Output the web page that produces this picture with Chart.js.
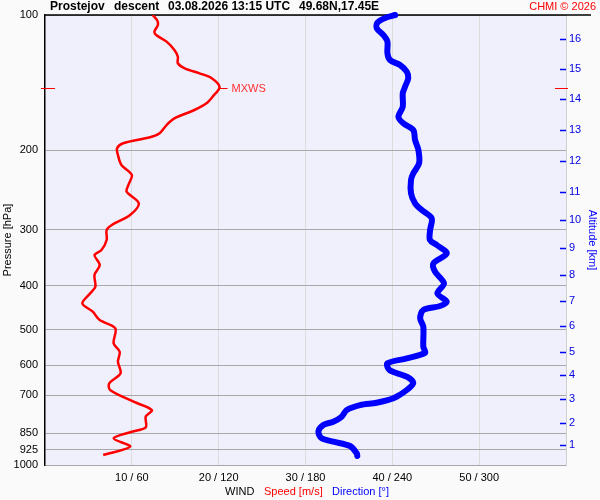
<!DOCTYPE html>
<html>
<head>
<meta charset="utf-8">
<script src="https://cdn.jsdelivr.net/npm/chart.js@4.4.1/dist/chart.umd.min.js"></script>
<style>
  body { margin: 0; background: #fafafa; }
</style>
</head>
<body>
<canvas id="sonde" width="600" height="500"></canvas>
<script>
// wind speed profile: pressure [hPa] / speed [m/s]
const speedP = [100, 102.6, 105.2, 108.9, 110.8, 114.6, 119.6, 123.8, 128.0, 131.4,
  134.8, 138.2, 144.7, 151.9, 157.1, 162.6, 169.7, 175.6, 183.2, 187.0,
  192.8, 197.8, 204.7, 215.4, 226.7, 238.7, 247.0, 262.1, 278.3, 292.9,
  300.4, 316.2, 332.9, 341.5, 359.4, 378.2, 401.7, 415.5, 437.2, 456.4,
  476.3, 496.8, 536.6, 560.2, 589.5, 625.5, 658.3, 681.3, 723.4, 754.8,
  780.6, 824.9, 843.3, 872.3, 910.6, 950.2];
const speedV = [12.4, 12.9, 13.0, 12.6, 12.8, 14.0, 14.9, 15.3, 15.3, 16.1,
  17.8, 19.2, 20.1, 19.3, 18.6, 17.2, 14.9, 14.0, 13.2, 12.1,
  9.0, 8.3, 8.4, 8.8, 10.0, 9.6, 9.4, 10.8, 9.8, 7.7,
  7.1, 7.1, 6.5, 5.7, 6.3, 5.7, 5.8, 5.2, 4.3, 5.5,
  6.3, 8.1, 7.9, 8.6, 8.4, 8.7, 7.4, 7.5, 10.2, 12.3,
  11.6, 11.6, 10.0, 7.9, 9.8, 6.7];

// wind direction profile: pressure [hPa] / direction [deg]
const dirP = [100, 101.5, 104.0, 107.0, 110.8, 114.6, 121.6, 125.9, 129.2, 133.7,
  138.2, 144.3, 149.3, 159.9, 168.3, 174.1, 180.1, 189.6, 199.5, 213.5,
  224.8, 232.6, 249.0, 262.1, 271.3, 283.0, 300.4, 316.2, 324.4, 338.6,
  356.3, 371.9, 394.8, 415.5, 433.6, 443.3, 452.4, 472.1, 492.8, 545.9,
  563.1, 579.5, 594.3, 615.0, 636.5, 656.4, 681.3, 710.9, 727.2, 735.8,
  754.8, 780.9, 801.2, 814.8, 843.3, 872.3, 887.5, 907.4, 941.9, 955];
const dirV = [242, 235, 229.7, 229.2, 233.8, 236.6, 236.6, 238.4, 245.3, 250,
  251, 248.8, 247.2, 247.2, 244.2, 247.6, 254.5, 255.7, 258, 258.5,
  254.5, 252.9, 252.9, 255.7, 260.3, 267.2, 266.1, 266, 270.7, 277.6,
  268.4, 269.5, 275.7, 271.1, 277.6, 273, 261.4, 259.2, 261.4, 261.4,
  262.6, 250, 236.6, 238, 250, 254.5, 250, 240.7, 229.2, 217.7,
  208.5, 205, 199.2, 192.3, 188.9, 191.2, 199.2, 210.8, 215.4, 215.8];

const pressTicks = [100, 200, 300, 400, 500, 600, 700, 850, 925, 1000];
const speedTicks = [10, 20, 30, 40, 50];
const altKm = [1, 2, 3, 4, 5, 6, 7, 8, 9, 10, 11, 12, 13, 14, 15, 16];
const altP = [904, 805, 714, 631, 560, 491, 431, 378, 330, 285, 247, 211, 180, 154, 132, 113];

// max wind marker
const mxwsP = 145;
const mxwsV = 20.1;

const FONT = '"Liberation Sans", Arial, sans-serif';
Chart.defaults.font.family = FONT;
Chart.defaults.font.size = 11;

const deco = {
  id: 'deco',
  beforeDraw(chart) {
    const { ctx, chartArea: a } = chart;
    ctx.save();
    ctx.fillStyle = '#fafafa';
    ctx.fillRect(0, 0, chart.width, chart.height);
    ctx.fillStyle = '#f0f0fc';
    ctx.fillRect(a.left, a.top, a.right - a.left, a.bottom - a.top);
    ctx.restore();
  },
  beforeDatasetsDraw(chart) {
    const { ctx, chartArea: a } = chart;
    ctx.save();
    ctx.strokeStyle = '#000';
    ctx.lineWidth = 1.5;
    ctx.beginPath();
    ctx.moveTo(a.left, a.top);
    ctx.lineTo(591, a.top);
    ctx.stroke();
    ctx.restore();
  },
  afterDraw(chart) {
    const { ctx, chartArea: a, scales } = chart;
    ctx.save();
    // title
    ctx.textBaseline = 'middle';
    ctx.textAlign = 'left';
    ctx.fillStyle = '#000';
    ctx.font = 'bold 12px ' + FONT;
    ctx.fillText('Prostejov', 50, 7);
    ctx.fillText('descent', 114, 7);
    ctx.fillText('03.08.2026 13:15 UTC', 168, 7);
    ctx.fillText('49.68N,17.45E', 299, 7);
    ctx.font = '11px ' + FONT;
    ctx.fillStyle = '#ff0000';
    ctx.textAlign = 'right';
    ctx.fillText('CHMI \u00a9 2026', 596, 7);

    // bottom legend
    ctx.textAlign = 'left';
    ctx.fillStyle = '#000';
    ctx.fillText('WIND', 225, 492);
    ctx.fillStyle = '#ff0000';
    ctx.fillText('Speed [m/s]', 264, 492);
    ctx.fillStyle = '#0000ff';
    ctx.fillText('Direction [\u00b0]', 332, 492);

    // altitude ticks (inside)
    ctx.strokeStyle = '#0000ff';
    ctx.lineWidth = 1.5;
    altP.forEach(p => {
      const y = Math.round(scales.y2.getPixelForValue(p)) + 0.5;
      ctx.beginPath();
      ctx.moveTo(a.right - 6, y);
      ctx.lineTo(a.right, y);
      ctx.stroke();
    });

    // MXWS
    const my = Math.round(scales.y.getPixelForValue(mxwsP)) + 0.5;
    const mx = scales.x.getPixelForValue(mxwsV);
    ctx.strokeStyle = '#ff0000';
    ctx.lineWidth = 1;
    ctx.beginPath();
    ctx.moveTo(a.left - 4, my); ctx.lineTo(a.left + 10, my);
    ctx.moveTo(a.right - 11, my); ctx.lineTo(a.right + 2, my);
    ctx.moveTo(mx, my); ctx.lineTo(mx + 8, my);
    ctx.stroke();
    ctx.fillStyle = '#ff3030';
    ctx.fillText('MXWS', mx + 12, my);
    ctx.restore();
  }
};

new Chart(document.getElementById('sonde'), {
  type: 'scatter',
  data: {
    datasets: [
      {
        label: 'Direction',
        data: dirP.map((p, i) => ({ x: dirV[i], y: p })),
        xAxisID: 'xd',
        yAxisID: 'y',
        showLine: true,
        borderColor: '#0000ff',
        borderWidth: 6,
        pointRadius: 0,
        tension: 0.3,
        clip: false,
        borderCapStyle: 'round',
        borderJoinStyle: 'round'
      },
      {
        label: 'Speed',
        data: speedP.map((p, i) => ({ x: speedV[i], y: p })),
        xAxisID: 'x',
        yAxisID: 'y',
        showLine: true,
        borderColor: '#ff0000',
        borderWidth: 2.5,
        pointRadius: 0,
        tension: 0.3
      }
    ]
  },
  options: {
    responsive: false,
    animation: false,
    layout: { padding: { top: 15 } },
    plugins: { legend: { display: false }, tooltip: { enabled: false } },
    scales: {
      x: {
        type: 'linear', position: 'bottom', min: 0, max: 60,
        afterBuildTicks: s => { s.ticks = speedTicks.map(v => ({ value: v })); },
        afterFit: s => { s.height = 35; },
        grid: { color: '#dcdcdc', drawTicks: false },
        border: { display: false },
        ticks: { padding: 6, color: '#000', autoSkip: false, maxRotation: 0,
          callback: v => v + ' / ' + v * 6 }
      },
      xd: { type: 'linear', display: false, min: 0, max: 360 },
      y: {
        type: 'logarithmic', position: 'left', reverse: true, min: 100, max: 1000,
        afterBuildTicks: s => { s.ticks = pressTicks.map(v => ({ value: v })); },
        afterFit: s => { s.width = 45; },
        grid: { color: '#a8a8a8', drawTicks: false },
        border: { color: '#000', width: 1.5 },
        ticks: { padding: 7, color: '#000', autoSkip: false, callback: v => String(v) },
        title: { display: true, text: 'Pressure [hPa]', color: '#000', padding: 1 }
      },
      y2: {
        type: 'logarithmic', position: 'right', reverse: true, min: 100, max: 1000,
        afterBuildTicks: s => { s.ticks = altP.map(v => ({ value: v })); },
        afterFit: s => { s.width = 34; },
        grid: { drawOnChartArea: false, drawTicks: false },
        border: { color: '#d0d0d0' },
        ticks: { padding: 3, color: '#0000e0', autoSkip: false,
          callback: v => String(altKm[altP.indexOf(v)]) },
        title: { display: true, text: 'Altitude [km]', color: '#0000ff', padding: 1 }
      }
    }
  },
  plugins: [deco]
});
</script>
</body>
</html>
